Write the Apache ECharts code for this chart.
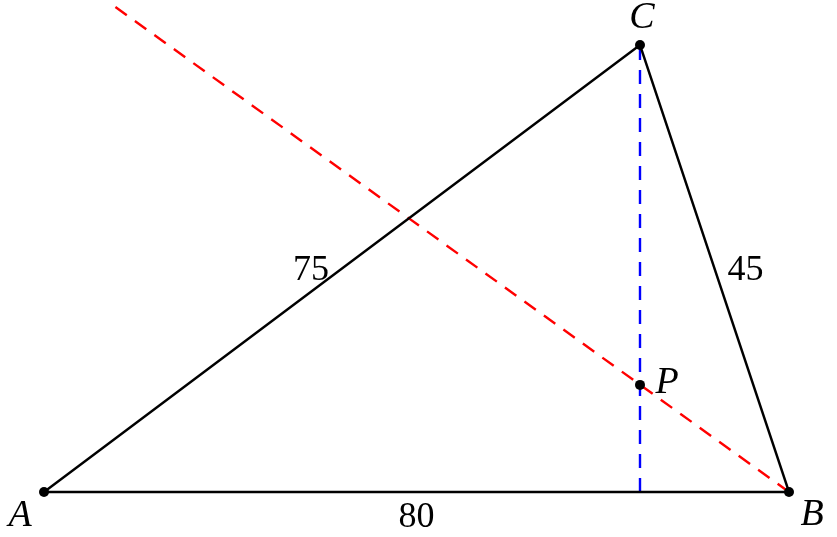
<!DOCTYPE html>
<html>
<head>
<meta charset="utf-8">
<script src="https://cdn.jsdelivr.net/npm/echarts@6/dist/echarts.min.js"></script>
<style>
  html, body { margin: 0; padding: 0; background: #fff; }
  #chart { width: 837px; height: 537px; }
</style>
</head>
<body>
<div id="chart"></div>
<script>
// points of the figure (drawing units)
const ptA = [0, 0];
const ptB = [80, 0];
const ptC = [64, 48];
const ptP = [64, 11.5];
const footC = [64, 0];      // foot of the altitude from C
const redEnd = [7.5, 52.2]; // where the dashed line through B and P leaves the picture

const vertexNames = ['A', 'B', 'C', 'P'];
const sideLabels = ['75', '45', '80']; // AC, BC, AB

const mid = (p, q) => [(p[0] + q[0]) / 2, (p[1] + q[1]) / 2];

const chart = echarts.init(document.getElementById('chart'));

const letterFont = {
  fontFamily: 'Liberation Serif',
  fontStyle: 'italic',
  fontSize: 38,
  color: '#000',
  opacity: 1
};
const numberFont = {
  fontFamily: 'Liberation Serif',
  fontSize: 36,
  color: '#000',
  opacity: 1
};

const vertexOffsets = [[-24, 24], [23, 23], [2, -27], [27, -2]];
const sideOffsets = [[-31, 2], [31, 2], [0, 26]];

chart.setOption({
  animation: false,
  grid: { left: 0, right: 0, top: 0, bottom: 0 },
  xAxis: { type: 'value', min: -4.725, max: 85.155, show: false },
  yAxis: { type: 'value', min: -4.832, max: 52.832, show: false },
  series: [
    {
      type: 'line',
      data: [footC, ptC],
      symbol: 'none',
      lineStyle: { color: '#0000ff', width: 2.4, type: [14, 10] },
      z: 1
    },
    {
      type: 'line',
      data: [ptB, redEnd],
      symbol: 'none',
      lineStyle: { color: '#ff0000', width: 2.4, type: [14, 10] },
      z: 2
    },
    {
      type: 'line',
      data: [ptA, ptB, ptC, ptA],
      symbol: 'none',
      lineStyle: { color: '#000', width: 2.4 },
      z: 3
    },
    {
      type: 'scatter',
      data: [ptA, ptB, ptC, ptP].map((p, i) => ({
        value: p,
        label: {
          show: true,
          formatter: vertexNames[i],
          position: 'inside',
          offset: vertexOffsets[i],
          ...letterFont
        }
      })),
      symbol: 'circle',
      symbolSize: 10,
      itemStyle: { color: '#000', opacity: 1 },
      z: 4
    },
    {
      type: 'scatter',
      data: [mid(ptA, ptC), mid(ptB, ptC), mid(ptA, ptB)].map((p, i) => ({
        value: p,
        label: {
          show: true,
          formatter: sideLabels[i],
          position: 'inside',
          offset: sideOffsets[i],
          ...numberFont
        }
      })),
      symbolSize: 0,
      itemStyle: { color: 'rgba(0,0,0,0)', opacity: 1 },
      z: 5
    }
  ]
});
</script>
</body>
</html>
